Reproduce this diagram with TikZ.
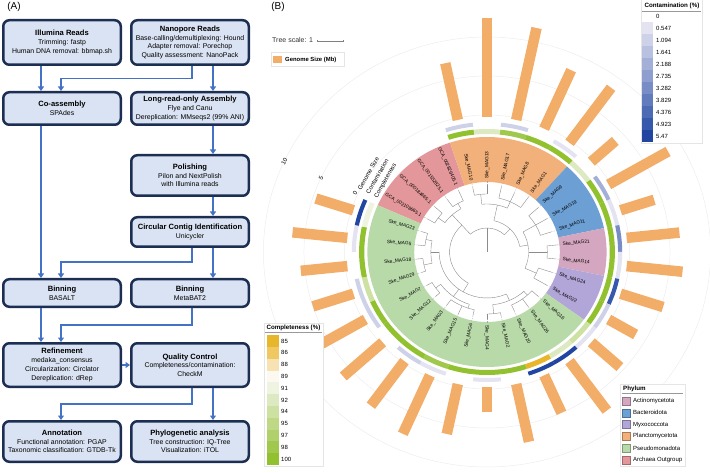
\documentclass[tikz,border=0pt]{standalone}
\usepackage{fontspec}
\setmainfont{Liberation Sans}
\usetikzlibrary{arrows.meta}

\definecolor{stagefill}{HTML}{DAE3F3}
\definecolor{stageline}{HTML}{1C2E52}
\definecolor{flowblue}{HTML}{4472C4}
\definecolor{archaea}{HTML}{E4979A}
\definecolor{plancto}{HTML}{F2B07A}
\definecolor{bactero}{HTML}{6C9FD4}
\definecolor{actino}{HTML}{D4A6C0}
\definecolor{myxo}{HTML}{B2A6D8}
\definecolor{pseudo}{HTML}{B8DAA9}
\definecolor{gsize}{HTML}{F2AD68}
% completeness scale
\definecolor{cmp85}{HTML}{E8B62A}
\definecolor{cmp86}{HTML}{EFC862}
\definecolor{cmp88}{HTML}{F6E2B2}
\definecolor{cmp89}{HTML}{FCFAF0}
\definecolor{cmp91}{HTML}{EEF4E0}
\definecolor{cmp92}{HTML}{DDEAC1}
\definecolor{cmp94}{HTML}{CDE1A2}
\definecolor{cmp95}{HTML}{BED886}
\definecolor{cmp97}{HTML}{AFD06A}
\definecolor{cmp98}{HTML}{A0C84D}
\definecolor{cmp100}{HTML}{92C130}
% contamination scale
\definecolor{ctmlo}{HTML}{E3E3F2}
\definecolor{ctmhi}{HTML}{2046A2}
\colorlet{ctm1}{ctmhi!0!ctmlo}
\colorlet{ctm2}{ctmhi!11!ctmlo}
\colorlet{ctm3}{ctmhi!22!ctmlo}
\colorlet{ctm4}{ctmhi!33!ctmlo}
\colorlet{ctm5}{ctmhi!44!ctmlo}
\colorlet{ctm6}{ctmhi!55!ctmlo}
\colorlet{ctm7}{ctmhi!66!ctmlo}
\colorlet{ctm8}{ctmhi!77!ctmlo}
\colorlet{ctm9}{ctmhi!88!ctmlo}
\colorlet{ctm10}{ctmhi!100!ctmlo}

\tikzset{
  stage/.style={draw=stageline, line width=2.5pt, fill=stagefill, rounded corners=6pt,
    minimum width=117.5pt, align=center, inner sep=1pt, font=\fontsize{6.9}{8.7}\selectfont},
  flow/.style={draw=flowblue, line width=1.8pt, -{Triangle[length=4.5pt,width=6pt]}},
  treeline/.style={draw=black!45, line width=0.4pt},
  tipline/.style={draw=black!35, line width=0.35pt, dash pattern=on 1.2pt off 1.2pt},
  leaf/.style={font=\fontsize{4.8}{5}\selectfont, inner sep=0pt},
  ringlabel/.style={font=\fontsize{6}{7}\selectfont, inner sep=0pt, anchor=west, rotate=60},
  gbar/.style={draw=gsize, line width=10.5pt},
  legendbox/.style={draw=black!10, line width=0.4pt, fill=white},
  legendtext/.style={font=\fontsize{6}{7}\selectfont, inner sep=0pt, anchor=west},
  legendtitle/.style={font=\bfseries\fontsize{6.2}{7}\selectfont, inner sep=0pt},
}
\newcommand{\ttl}[1]{{\bfseries\fontsize{7.6}{8.7}\selectfont #1}}
\newcommand{\brarc}[3]{\draw[treeline] (#1:#3) arc[start angle=#1, end angle=#2, radius=#3];}
\newcommand{\brrad}[3]{\draw[treeline] (#1:#2) -- (#1:#3);}
\newcommand{\tipto}[3]{\draw[treeline] (#1:#2) -- (#1:#3); \draw[tipline] (#1:#3) -- (#1:71.5);}

\begin{document}
\begin{tikzpicture}[x=1pt, y=1pt]
\useasboundingbox (0,0) rectangle (710,472);

\node[font=\fontsize{10}{12}\selectfont, inner sep=0pt] (tagA) at (14,465) {(A)};
\node[font=\fontsize{10}{12}\selectfont, inner sep=0pt] (tagB) at (278,465) {(B)};

% workflow boxes
\node[stage, minimum height=44.5pt] (illumina) at (62,429.5) {\ttl{Illumina Reads}\\Trimming: fastp\\Human DNA removal: bbmap.sh};
\node[stage, minimum height=44.5pt] (nanopore) at (190,429.5) {\ttl{Nanopore Reads}\\Base-calling/demultiplexing: Hound\\Adapter removal: Porechop\\Quality assessment: NanoPack};
\node[stage, minimum height=32.5pt] (coasm) at (62,363.5) {\ttl{Co-assembly}\\SPAdes};
\node[stage, minimum height=32.5pt] (longasm) at (190,363.5) {\ttl{Long-read-only Assembly}\\Flye and Canu\\Dereplication: MMseqs2 (99\% ANI)};
\node[stage, minimum height=40.5pt] (polish) at (190,296.5) {\ttl{Polishing}\\Pilon and NextPolish\\with Illumina reads};
\node[stage, minimum height=29.5pt] (circular) at (190,240) {\ttl{Circular Contig Identification}\\Unicycler};
\node[stage, minimum height=27.5pt] (basalt) at (62,179) {\ttl{Binning}\\BASALT};
\node[stage, minimum height=27.5pt] (metabat) at (190,179) {\ttl{Binning}\\MetaBAT2};
\node[stage, minimum height=43.5pt] (refine) at (62,107) {\ttl{Refinement}\\medaka\_consensus\\Circularization: Circlator\\Dereplication: dRep};
\node[stage, minimum height=43.5pt] (qc) at (190,107) {\ttl{Quality Control}\\Completeness/contamination:\\CheckM};
\node[stage, minimum height=40.5pt] (annot) at (62,30.5) {\ttl{Annotation}\\Functional annotation: PGAP\\Taxonomic classification: GTDB-Tk};
\node[stage, minimum height=40.5pt] (phylo) at (190,30.5) {\ttl{Phylogenetic analysis}\\Tree construction: IQ-Tree\\Visualization: iTOL};

\draw[flow] ([xshift=-21pt]illumina.south) -- ([xshift=-21pt]coasm.north);
\draw[flow] ([xshift=2pt]nanopore.south) -- ++(0,-12.5) -| ([xshift=-1pt]coasm.north);
\draw[flow] ([xshift=23pt]nanopore.south) -- ([xshift=23pt]longasm.north);
\draw[flow] ([xshift=23pt]longasm.south) -- ([xshift=23pt]polish.north);
\draw[flow] ([xshift=23pt]polish.south) -- ([xshift=23pt]circular.north);
\draw[flow] ([xshift=2pt]circular.south) -- ++(0,-14) -| ([xshift=-1pt]basalt.north);
\draw[flow] ([xshift=23pt]circular.south) -- ([xshift=23pt]metabat.north);
\draw[flow] ([xshift=-21pt]coasm.south) -- ([xshift=-21pt]basalt.north);
\draw[flow] ([xshift=-21pt]basalt.south) -- ([xshift=-21pt]refine.north);
\draw[flow] ([xshift=2pt]metabat.south) -- ++(0,-17) -| ([xshift=-1pt]refine.north);
\draw[flow] (refine.east) -- (qc.west);
\draw[flow] ([xshift=2pt]qc.south) -- ++(0,-16) -| ([xshift=-1pt]annot.north);
\draw[flow] ([xshift=23pt]qc.south) -- ([xshift=23pt]phylo.north);

% tree scale and genome size key
\node[font=\fontsize{7}{8}\selectfont, inner sep=0pt, anchor=west, text=black!80] (scaletxt) at (272,432) {Tree scale: 1};
\draw[black!50, line width=0.5pt, {Bar[width=2pt]}-{Bar[width=2pt]}] (317,431) -- (343,431);
\draw[legendbox] (271,406) rectangle (344,420);
\fill[gsize] (273,409) rectangle (282,416);
\node[legendtitle, font=\bfseries\fontsize{5.9}{7}\selectfont, anchor=west] (gskey) at (285,412.5) {Genome Size (Mb)};

\begin{scope}[shift={(487,220)}, x=1.04pt]
  % grid circles of the genome size ring
  \foreach \r in {137,176,215}
    \draw[black!7, line width=0.5pt] (0,0) circle (\r);

  % clade sectors
  \foreach \a/\b/\c in {108/156/archaea, 48/108/plancto, 12/48/bactero, -12/12/actino, -36/-12/myxo, -204/-36/pseudo}
    \fill[\c] (\a:70) -- (\a:115) arc[start angle=\a, end angle=\b, radius=115] -- (\b:70) arc[start angle=\b, end angle=\a, radius=70] -- cycle;

  % tree
  \brrad{90}{0}{24} \brarc{46}{132}{24}
  \brrad{132}{24}{36} \brarc{132}{240}{36}
  \brrad{132}{36}{50} \brarc{120}{144}{50}
  \brrad{144}{50}{58} \brarc{138}{150}{58} \tipto{150}{58}{66} \tipto{138}{58}{68}
  \brrad{120}{50}{56} \brarc{114}{126}{56} \tipto{114}{56}{67} \tipto{126}{56}{65}
  \brrad{240}{36}{46} \brarc{180}{294}{46}
  \brrad{180}{46}{54} \brarc{168}{192}{54}
  \brrad{168}{54}{60} \brarc{162}{174}{60} \tipto{162}{60}{66} \tipto{174}{60}{67}
  \brrad{192}{54}{62} \brarc{186}{198}{62} \tipto{186}{62}{68} \tipto{198}{62}{66}
  \brrad{234}{46}{55} \brarc{216}{252}{55}
  \brrad{216}{55}{61} \brarc{210}{222}{61} \tipto{210}{61}{67} \tipto{222}{61}{66}
  \brrad{252}{55}{59} \brarc{234}{258}{59} \tipto{234}{59}{66} \tipto{246}{59}{68} \tipto{258}{59}{65}
  \brrad{294}{46}{53} \brarc{276}{312}{53}
  \brrad{276}{53}{62} \brarc{270}{282}{62} \tipto{270}{62}{67} \tipto{282}{62}{66}
  \brrad{312}{53}{58} \brarc{294}{318}{58} \tipto{294}{58}{65} \tipto{306}{58}{68} \tipto{318}{58}{66}
  \brrad{46}{24}{32} \brarc{10}{78}{32}
  \brrad{78}{32}{48} \brarc{66}{96}{48}
  \brrad{96}{48}{58} \brarc{90}{102}{58} \tipto{102}{58}{66} \tipto{90}{58}{67}
  \brrad{66}{48}{55} \brarc{54}{78}{55} \tipto{78}{55}{67} \tipto{66}{55}{65} \tipto{54}{55}{68}
  \brrad{10}{32}{40} \brarc{-24}{30}{40}
  \brrad{30}{40}{54} \brarc{18}{42}{54} \tipto{42}{54}{66} \tipto{30}{54}{67} \tipto{18}{54}{65}
  \brrad{0}{40}{58} \brarc{-6}{6}{58} \tipto{6}{58}{68} \tipto{-6}{58}{66}
  \brrad{-24}{40}{52} \brarc{-30}{-18}{52} \tipto{-18}{52}{66} \tipto{-30}{52}{67}

  % leaf labels
  \foreach \a/\n in {150/GCA\_002108665.1, 138/GCA\_000184665.1, 126/GCA\_001552825.1, 114/GCA\_002826405.1,
      102/Ske\_MAG10, 90/Ske\_MAG13, 78/Ske\_MAG17, 66/Ske\_MAG8, 54/Ske\_MAG1,
      42/Ske\_MAG9, 30/Ske\_MAG19, 18/Ske\_MAG11, 6/Ske\_MAG21, -6/Ske\_MAG14,
      -18/Ske\_MAG24, -30/Ske\_MAG22, -42/Ske\_MAG16, -54/Ske\_MAG26, -66/Ske\_MAG20,
      -78/Ske\_MAG2, -90/Ske\_MAG4, -102/Ske\_MAG6, -114/Ske\_MAG15, -126/Ske\_MAG3,
      -138/Ske\_MAG12, -150/Ske\_MAG7, -162/Ske\_MAG29, -174/Ske\_MAG18, -186/Ske\_MAG5,
      -198/Ske\_MAG23}{
    \pgfmathtruncatemacro{\lft}{cos(\a)<-0.001 ? 1 : 0}
    \ifnum\lft=1
      \node[leaf, anchor=east, rotate=\a+180] (lbl\a) at (\a:73) {\n};
    \else
      \node[leaf, anchor=west, rotate=\a] (lbl\a) at (\a:73) {\n};
    \fi
  }

  % completeness ring, contamination ring and genome size bars
  \foreach \a/\cp/\ct/\g in {102/cmp100/ctm2/193, 90/cmp92/white/234, 78/cmp98/ctm2/229,
      66/cmp100/white/199, 54/cmp100/ctm1/203, 42/cmp92/white/166, 30/cmp100/ctm4/201,
      18/cmp100/ctm1/169, 6/cmp100/ctm6/186, -6/cmp100/ctm1/189, -18/cmp100/ctm9/178,
      -30/cmp100/ctm2/165, -42/cmp94/ctm1/172, -54/cmp92/ctm10/196, -66/cmp85/ctm10/176,
      -78/cmp100/white/194, -90/cmp100/ctm1/160, -102/cmp100/white/186, -114/cmp98/ctm1/199,
      -126/cmp100/ctm2/190, -138/cmp100/white/186, -150/cmp100/ctm2/201, -162/cmp94/ctm2/176,
      -174/cmp100/white/180, -186/cmp100/ctm1/188, -198/cmp91/ctm10/173}{
    \fill[\cp] ({\a-6}:118) arc[start angle=\a-6, end angle=\a+6, radius=118]
      -- ({\a+6}:123) arc[start angle=\a+6, end angle=\a-6, radius=123] -- cycle;
    \fill[\ct] ({\a-6}:126) arc[start angle=\a-6, end angle=\a+6, radius=126]
      -- ({\a+6}:130) arc[start angle=\a+6, end angle=\a-6, radius=130] -- cycle;
    \draw[gbar] (\a:135) -- (\a:\g);
  }

  % ring names and genome size scale
  \node[ringlabel] (ringcmp) at (153:120) {Completeness};
  \node[ringlabel] (ringctm) at (153:129) {Contamination};
  \node[ringlabel] (ringgs) at (153:138) {Genome Size};
  \foreach \r/\v in {140/0, 176/5, 215/10}
    \node[font=\fontsize{6}{7}\selectfont, inner sep=0pt, rotate=62] (tick\v) at (155:\r) {\v};
\end{scope}

% contamination key
\draw[legendbox] (641,329) rectangle (702,474);
\node[legendtitle] (ctmtitle) at (672,466.5) {Contamination (\%)};
\draw[black!40, line width=0.4pt] (642,461) -- (701,461);
\foreach \k/\v in {0/0, 1/0.547, 2/1.094, 3/1.641, 4/2.188, 5/2.735, 6/3.282, 7/3.829, 8/4.376, 9/4.923, 10/5.47} {
  \ifnum\k>0 \fill[ctm\k] (642,450-12*\k) rectangle (653,462-12*\k); \fi
  \node[legendtext] (ctmkey\k) at (656,456-12*\k) {\v};
}

% completeness key
\draw[legendbox] (264,6) rectangle (323,149);
\node[legendtitle] (cmptitle) at (293.5,144) {Completeness (\%)};
\draw[black!40, line width=0.4pt] (265,140) -- (322,140);
\foreach \k/\v in {0/85, 1/86, 2/88, 3/89, 4/91, 5/92, 6/94, 7/95, 8/97, 9/98, 10/100} {
  \fill[cmp\v] (267,125.1-11.8*\k) rectangle (279,136.9-11.8*\k);
  \node[legendtext] (cmpkey\v) at (281,131-11.8*\k) {\v};
}

% phylum key
\draw[legendbox] (620,6) rectangle (685,88);
\node[legendtitle, anchor=west] (phytitle) at (623,83) {Phylum};
\draw[black!40, line width=0.4pt] (622,79) -- (683,79);
\foreach \k/\c/\n in {0/actino/Actinomycetota, 1/bactero/Bacteroidota, 2/myxo/Myxococcota,
    3/plancto/Planctomycetota, 4/pseudo/Pseudomonadota, 5/archaea/Archaea Outgroup} {
  \draw[fill=\c, draw=\c!70!black, line width=0.3pt] (622,67-11.8*\k) rectangle (630,75-11.8*\k);
  \node[legendtext] (phykey\k) at (633,71-11.8*\k) {\n};
}
\end{tikzpicture}
\end{document}
